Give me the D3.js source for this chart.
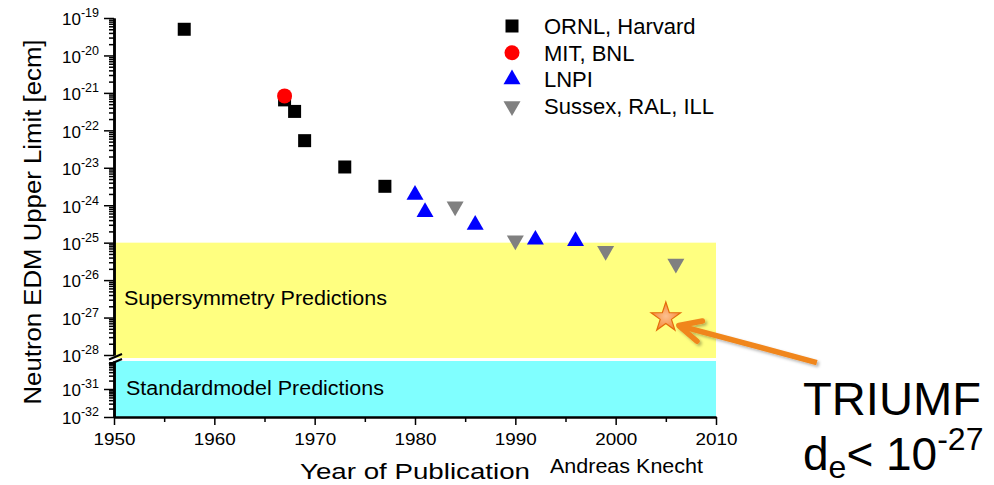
<!DOCTYPE html>
<html>
<head>
<meta charset="utf-8">
<script src="https://cdn.jsdelivr.net/npm/d3@7"></script>
<style>
  body { margin: 0; background: #fff; }
  svg { display: block; font-family: "Liberation Sans", Arial, sans-serif; }
</style>
</head>
<body>
<div id="chart"></div>
<script>
// data
const ornlYears = [1957, 1967, 1968, 1969, 1973, 1977];
const ornlLimits = [5e-20, 6.5e-22, 3.2e-22, 5.3e-23, 1.05e-23, 3.2e-24];
const mitYears = [1967];
const mitLimits = [8.3e-22];
const lnpiYears = [1980, 1981, 1986, 1992, 1996];
const lnpiLimits = [1.9e-24, 6.6e-25, 3.0e-25, 1.2e-25, 1.1e-25];
const sussexYears = [1984, 1990, 1999, 2006];
const sussexLimits = [9.3e-25, 1.15e-25, 6.0e-26, 2.75e-26];
const triumfYear = 2005;
const triumfLimit = 1e-27;

const seriesNames = ["ORNL, Harvard", "MIT, BNL", "LNPI", "Sussex, RAL, ILL"];
const xTicks = [1950, 1960, 1970, 1980, 1990, 2000, 2010];
const xMinorTicks = [1955, 1965, 1975, 1985, 1995, 2005];
const upperExponents = [-19, -20, -21, -22, -23, -24, -25, -26, -27, -28];
const lowerExponents = [-31, -32];
const susyBand = [1e-25, 1e-28];
const smBand = [1e-30, 1e-32];

const width = 994, height = 485;

const svg = d3.select("#chart").append("svg")
  .attr("width", width)
  .attr("height", height);

const defs = svg.append("defs");
const grad = defs.append("radialGradient").attr("id", "starFill");
grad.append("stop").attr("offset", "0%").attr("stop-color", "#fcc08f");
grad.append("stop").attr("offset", "100%").attr("stop-color", "#f58a3a");
const shadow = defs.append("filter").attr("id", "shadow")
  .attr("x", "-20%").attr("y", "-20%").attr("width", "140%").attr("height", "140%");
shadow.append("feDropShadow")
  .attr("dx", 2).attr("dy", 2).attr("stdDeviation", 1.5)
  .attr("flood-color", "#000").attr("flood-opacity", 0.3);

// scales (broken log axis: upper and lower part)
const x = d3.scaleLinear().domain([1950, 2010]).range([114, 716]);
const yUp = d3.scaleLog().domain([1e-28, 1e-19]).range([355, 18]);
const yLow = d3.scaleLog().domain([1e-32, 1e-30]).range([417, 361]);

// bands
svg.append("rect")
  .attr("x", x(1950)).attr("width", x(2010) - x(1950))
  .attr("y", yUp(susyBand[0])).attr("height", yUp(susyBand[1]) - yUp(susyBand[0]) + 3)
  .attr("fill", "#ffff80");
svg.append("rect")
  .attr("x", x(1950)).attr("width", x(2010) - x(1950))
  .attr("y", yLow(smBand[0])).attr("height", yLow(smBand[1]) - yLow(smBand[0]))
  .attr("fill", "#80ffff");

svg.append("text")
  .attr("x", 124).attr("y", 305)
  .attr("font-size", 20)
  .attr("textLength", 263).attr("lengthAdjust", "spacingAndGlyphs")
  .text("Supersymmetry Predictions");
svg.append("text")
  .attr("x", 126).attr("y", 395)
  .attr("font-size", 20)
  .attr("textLength", 258).attr("lengthAdjust", "spacingAndGlyphs")
  .text("Standardmodel Predictions");

// minor tick values for the log axes
const minorOf = exps => exps.flatMap(e => d3.range(2, 10).map(k => k * Math.pow(10, e)));
const upperMinor = minorOf(d3.range(-28, -19));
const lowerMinor = minorOf([-32, -31]);

function expLabel(sel) {
  sel.each(function(d) {
    const t = d3.select(this).text(null).attr("dy", "0.4em");
    t.append("tspan").text("10");
    t.append("tspan").attr("dy", -8).attr("font-size", 12.5)
      .text(Math.round(Math.log10(d)));
  });
}

function styleAxis(g, w) {
  g.attr("font-family", null).attr("font-size", 17);
  g.selectAll("path.domain").attr("stroke-width", w);
  g.selectAll(".tick line").attr("stroke-width", 1.5);
}

// y axis upper part
svg.append("g")
  .attr("transform", `translate(${x(1950)},0)`)
  .call(d3.axisLeft(yUp).tickValues(upperMinor).tickSize(5).tickSizeOuter(0).tickFormat(""))
  .call(g => styleAxis(g, 2.5));
svg.append("g")
  .attr("transform", `translate(${x(1950)},0)`)
  .call(d3.axisLeft(yUp).tickValues(upperExponents.map(e => Math.pow(10, e)))
    .tickSize(10).tickPadding(5).tickSizeOuter(0))
  .call(g => styleAxis(g, 2.5))
  .call(g => g.selectAll(".tick text").call(expLabel));

// y axis lower part
svg.append("g")
  .attr("transform", `translate(${x(1950)},0)`)
  .call(d3.axisLeft(yLow).tickValues(lowerMinor).tickSize(5).tickSizeOuter(0).tickFormat(""))
  .call(g => styleAxis(g, 2.5));
svg.append("g")
  .attr("transform", `translate(${x(1950)},0)`)
  .call(d3.axisLeft(yLow).tickValues(lowerExponents.map(e => Math.pow(10, e)))
    .tickSize(10).tickPadding(5).tickSizeOuter(0))
  .call(g => styleAxis(g, 2.5))
  .call(g => g.selectAll(".tick text").call(expLabel));

// break marks
[yUp(1e-28) + 2, yLow(1e-30) + 1].forEach(yb => {
  svg.append("line")
    .attr("x1", x(1950) - 5).attr("y1", yb + 2.5)
    .attr("x2", x(1950) + 8).attr("y2", yb - 3)
    .attr("stroke", "#000").attr("stroke-width", 2);
});

// x axis
svg.append("g")
  .attr("transform", `translate(0,${yLow(1e-32)})`)
  .call(d3.axisBottom(x).tickValues(xMinorTicks).tickSize(5).tickSizeOuter(0).tickFormat(""))
  .call(g => styleAxis(g, 2));
svg.append("g")
  .attr("transform", `translate(0,${yLow(1e-32)})`)
  .call(d3.axisBottom(x).tickValues(xTicks).tickSize(8).tickPadding(8)
    .tickSizeOuter(0).tickFormat(d3.format("d")))
  .call(g => styleAxis(g, 2))
  .call(g => g.selectAll(".tick text")
    .attr("textLength", 42).attr("lengthAdjust", "spacingAndGlyphs"));

// axis titles
svg.append("text")
  .attr("transform", "translate(41,222) rotate(-90)")
  .attr("text-anchor", "middle")
  .attr("font-size", 23)
  .attr("textLength", 365).attr("lengthAdjust", "spacingAndGlyphs")
  .text("Neutron EDM Upper Limit [ecm]");
svg.append("text")
  .attr("x", 300).attr("y", 479)
  .attr("font-size", 22)
  .attr("textLength", 230).attr("lengthAdjust", "spacingAndGlyphs")
  .text("Year of Publication");
svg.append("text")
  .attr("x", 550).attr("y", 473)
  .attr("font-size", 20)
  .attr("textLength", 153).attr("lengthAdjust", "spacingAndGlyphs")
  .text("Andreas Knecht");

// markers
const shapes = [
  { type: d3.symbolSquare, size: 169, color: "#000", rot: 0 },
  { type: d3.symbolCircle, size: 177, color: "#ff0000", rot: 0 },
  { type: d3.symbolTriangle, size: 125, color: "#0000ff", rot: 0 },
  { type: d3.symbolTriangle, size: 125, color: "#808080", rot: 180 }
];
const series = [
  { years: ornlYears, limits: ornlLimits },
  { years: mitYears, limits: mitLimits },
  { years: lnpiYears, limits: lnpiLimits },
  { years: sussexYears, limits: sussexLimits }
];

series.forEach((s, i) => {
  const sh = shapes[i];
  svg.append("g").selectAll("path")
    .data(s.years.map((yr, j) => ({ yr, v: s.limits[j] })))
    .enter().append("path")
    .attr("d", d3.symbol(sh.type, sh.size))
    .attr("transform", d => `translate(${x(d.yr)},${yUp(d.v)}) rotate(${sh.rot})`)
    .attr("fill", sh.color);
});

// legend
const legend = svg.append("g");
seriesNames.forEach((name, i) => {
  const sh = shapes[i];
  const ly = 26 + i * 26.7;
  legend.append("path")
    .attr("d", d3.symbol(sh.type, sh.size))
    .attr("transform", `translate(512,${ly}) rotate(${sh.rot})`)
    .attr("fill", sh.color);
  legend.append("text")
    .attr("x", 544).attr("y", ly + 8)
    .attr("font-size", 22)
    .text(name);
});

// TRIUMF star + arrow
const sx = x(triumfYear), sy = yUp(triumfLimit);
const tip = [sx + 13, sy + 8];
const tail = [sx + 151, sy + 45];
const ang = Math.atan2(tail[1] - tip[1], tail[0] - tip[0]);
const wing = a => [tip[0] + 24 * Math.cos(ang + a), tip[1] + 24 * Math.sin(ang + a)];

const arrow = svg.append("g").attr("filter", "url(#shadow)");
arrow.append("path")
  .attr("d", d3.line()([tail, tip]))
  .attr("stroke", "#f0861c").attr("stroke-width", 5.5).attr("fill", "none");
arrow.append("path")
  .attr("d", d3.line()([wing(-0.45), tip, wing(0.45)]))
  .attr("stroke", "#f0861c").attr("stroke-width", 5.5)
  .attr("stroke-linejoin", "round").attr("stroke-linecap", "round").attr("fill", "none");

svg.append("path")
  .attr("d", d3.symbol(d3.symbolStar, 270))
  .attr("transform", `translate(${sx},${sy})`)
  .attr("fill", "url(#starFill)")
  .attr("stroke", "#e46c0a").attr("stroke-width", 1.2);

svg.append("text")
  .attr("x", 803).attr("y", 415)
  .attr("font-size", 46)
  .attr("textLength", 178).attr("lengthAdjust", "spacingAndGlyphs")
  .text("TRIUMF");

const de = svg.append("text").attr("x", 803).attr("y", 470).attr("font-size", 46);
de.append("tspan").text("d");
de.append("tspan").attr("font-size", 32).attr("dy", 8).text("e");
de.append("tspan").attr("dy", -8).text("< 10");
de.append("tspan").attr("font-size", 32).attr("dy", -20).text("-27");
</script>
</body>
</html>
